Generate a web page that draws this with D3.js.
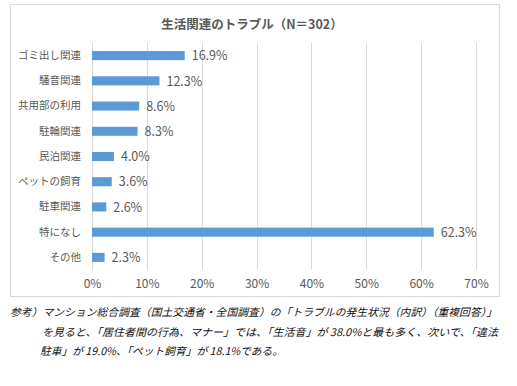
<!DOCTYPE html>
<html lang="ja">
<head>
<meta charset="utf-8">
<title>生活関連のトラブル</title>
<script src="https://cdn.jsdelivr.net/npm/d3@7"></script>
<style>
  body { margin: 0; background: #fff; }
  svg { display: block; }
</style>
</head>
<body>
<script>
// データ
var categories = ["ゴミ出し関連", "騒音関連", "共用部の利用", "駐輪関連", "民泊関連", "ペットの飼育", "駐車関連", "特になし", "その他"];
var values = [16.9, 12.3, 8.6, 8.3, 4.0, 3.6, 2.6, 62.3, 2.3];
var ticks = [0, 10, 20, 30, 40, 50, 60, 70];
var title = "生活関連のトラブル（N＝302）";
var notes = [
  "参考）マンション総合調査（国土交通省・全国調査）の「トラブルの発生状況（内訳）（重複回答）」",
  "を見ると、「居住者間の行為、マナー」では、「生活音」が 38.0%と最も多く、次いで、「違法",
  "駐車」が 19.0%、「ペット飼育」が 18.1%である。"
];

var width = 517, height = 386;
var font = "'Noto Sans CJK JP', 'Noto Sans', sans-serif";
var grey = "#595959";

var svg = d3.select("body").append("svg")
    .attr("width", width)
    .attr("height", height);

// 外枠
svg.append("rect")
    .attr("x", 10.5).attr("y", 4.5)
    .attr("width", 489).attr("height", 292)
    .attr("fill", "#fff")
    .attr("stroke", "#d9d9d9");

svg.append("text")
    .attr("x", 252).attr("y", 29)
    .attr("text-anchor", "middle")
    .attr("font-family", font)
    .attr("font-size", 12.5)
    .attr("font-weight", "bold")
    .attr("fill", grey)
    .text(title);

var x = d3.scaleLinear().domain([0, 70]).range([92, 476]);
var y = d3.scaleBand().domain(categories).range([43, 270])
    .paddingInner(0.64).paddingOuter(0.32);

// グリッド
svg.append("g").selectAll("line")
    .data(ticks)
    .enter().append("line")
      .attr("x1", d => Math.round(x(d)) + 0.5)
      .attr("x2", d => Math.round(x(d)) + 0.5)
      .attr("y1", 43).attr("y2", 270)
      .attr("stroke", "#d9d9d9");

// X軸
var xAxis = svg.append("g")
    .attr("transform", "translate(0,270)")
    .call(d3.axisBottom(x).tickValues(ticks).tickFormat(d => d + "%").tickSize(0).tickPadding(9));
xAxis.select(".domain").remove();
xAxis.selectAll("text")
    .attr("font-family", font)
    .attr("font-size", 12)
    .attr("fill", grey);

// Y軸
var yAxis = svg.append("g")
    .attr("transform", "translate(92,0)")
    .call(d3.axisLeft(y).tickSize(0).tickPadding(11));
yAxis.select(".domain").remove();
yAxis.selectAll("text")
    .attr("font-family", font)
    .attr("font-size", 10.5)
    .attr("fill", grey);

// バー
svg.append("g").selectAll("rect")
    .data(values)
    .enter().append("rect")
      .attr("x", x(0))
      .attr("y", (d, i) => y(categories[i]))
      .attr("width", d => x(d) - x(0))
      .attr("height", y.bandwidth())
      .attr("fill", "#5b9bd5");

// 値ラベル
svg.append("g").selectAll("text")
    .data(values)
    .enter().append("text")
      .attr("x", d => x(d) + 7)
      .attr("y", (d, i) => y(categories[i]) + y.bandwidth() / 2)
      .attr("dy", "0.38em")
      .attr("font-family", font)
      .attr("font-size", 12.5)
      .attr("fill", grey)
      .text(d => d.toFixed(1) + "%");

// 注記
var noteX = [10, 42, 40];
var noteY = [316, 336, 355];
var noteLen = [487, 456, 243];
svg.append("g").selectAll("text")
    .data(notes)
    .enter().append("text")
      .attr("x", (d, i) => noteX[i])
      .attr("y", (d, i) => noteY[i])
      .attr("font-family", font)
      .attr("font-size", 10.5)
      .attr("font-style", "italic")
      .attr("fill", "#111")
      .attr("textLength", (d, i) => noteLen[i])
      .attr("lengthAdjust", "spacingAndGlyphs")
      .text(d => d);
</script>
</body>
</html>
